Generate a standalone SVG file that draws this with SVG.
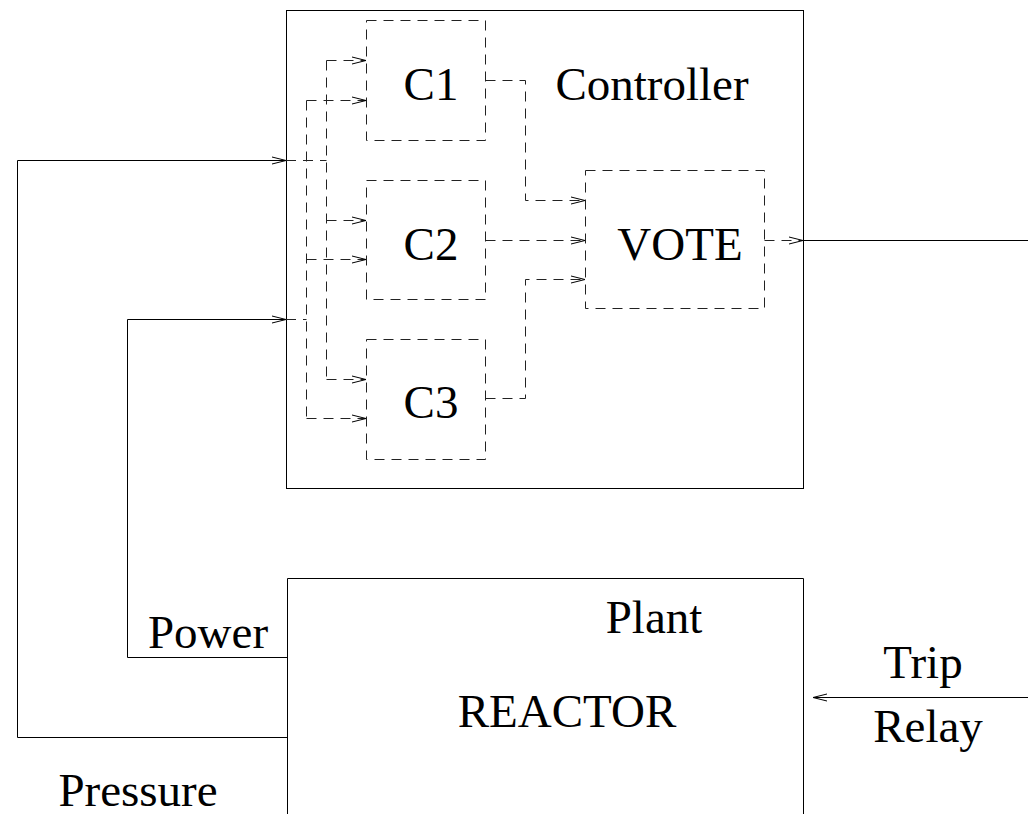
<svg xmlns="http://www.w3.org/2000/svg" width="1028" height="814" viewBox="0 0 1028 814">
<style>
.box{fill:none;stroke:#000;stroke-width:1}
.dbox{fill:none;stroke:#222;stroke-width:1;stroke-dasharray:10 7}
.ln{fill:none;stroke:#000;stroke-width:1}
.dl{fill:none;stroke:#222;stroke-width:1;stroke-dasharray:10 7}
.t{font-family:"Liberation Serif","Times New Roman",serif;font-size:47px;fill:#000}
</style>
<defs>
<marker id="arr" markerUnits="userSpaceOnUse" markerWidth="20" markerHeight="10" refX="0" refY="0" viewBox="-15 -5 16 10" orient="auto" overflow="visible">
<path d="M-14,-3.5 L0,0 L-14,3.5" fill="none" stroke="#000" stroke-width="1" stroke-dasharray="none"/>
</marker>
</defs>
<rect width="1028" height="814" fill="#fff"/>
<g id="controller">
<rect class="box" x="286.5" y="10.5" width="517" height="478"/>
<text class="t" x="652" y="100" text-anchor="middle">Controller</text>
</g>
<g id="c1">
<rect class="dbox" x="366.5" y="20.5" width="119" height="120"/>
<text class="t" x="431" y="100" text-anchor="middle">C1</text>
</g>
<g id="c2">
<rect class="dbox" x="366.5" y="180.5" width="119" height="119"/>
<text class="t" x="431" y="260" text-anchor="middle">C2</text>
</g>
<g id="c3">
<rect class="dbox" x="366.5" y="339.5" width="119" height="120"/>
<text class="t" x="431" y="418" text-anchor="middle">C3</text>
</g>
<g id="vote">
<rect class="dbox" x="585.5" y="170.5" width="179" height="138"/>
<text class="t" x="680" y="260" text-anchor="middle">VOTE</text>
</g>
<g id="plant">
<path class="box" d="M287.5,820 V578.5 H803.5 V820"/>
<text class="t" x="654" y="633" text-anchor="middle">Plant</text>
<text class="t" x="567" y="727" text-anchor="middle">REACTOR</text>
</g>
<g id="labels">
<text class="t" x="208" y="648" text-anchor="middle">Power</text>
<text class="t" x="138" y="806" text-anchor="middle">Pressure</text>
<text class="t" x="923" y="678" text-anchor="middle">Trip</text>
<text class="t" x="928" y="742" text-anchor="middle">Relay</text>
</g>
<g id="connectors">
<path class="ln" d="M287,737.5 H17.5 V160.5 H286" marker-end="url(#arr)"/>
<path class="ln" d="M287,657.5 H127.5 V319.5 H286" marker-end="url(#arr)"/>
<path class="ln" d="M803,240.5 H1028"/>
<path class="ln" d="M1028,697.5 H813" marker-end="url(#arr)"/>
<path class="dl" d="M286,160.5 H326.5"/>
<path class="dl" d="M326.5,60.5 V379.5"/>
<path class="dl" d="M326.5,60.5 H366" marker-end="url(#arr)"/>
<path class="dl" d="M326.5,220.5 H366" marker-end="url(#arr)"/>
<path class="dl" d="M326.5,379.5 H366" marker-end="url(#arr)"/>
<path class="dl" d="M286,319.5 H306.5"/>
<path class="dl" d="M306.5,100.5 V418.5"/>
<path class="dl" d="M306.5,100.5 H366" marker-end="url(#arr)"/>
<path class="dl" d="M306.5,259.5 H366" marker-end="url(#arr)"/>
<path class="dl" d="M306.5,418.5 H366" marker-end="url(#arr)"/>
<path class="dl" d="M485.5,80.5 H525.5 V200.5 H585" marker-end="url(#arr)"/>
<path class="dl" d="M485.5,240.5 H585" marker-end="url(#arr)"/>
<path class="dl" d="M485.5,398.5 H525.5 V279.5 H585" marker-end="url(#arr)"/>
<path class="dl" d="M764.5,240.5 H803" marker-end="url(#arr)"/>
</g>
</svg>
